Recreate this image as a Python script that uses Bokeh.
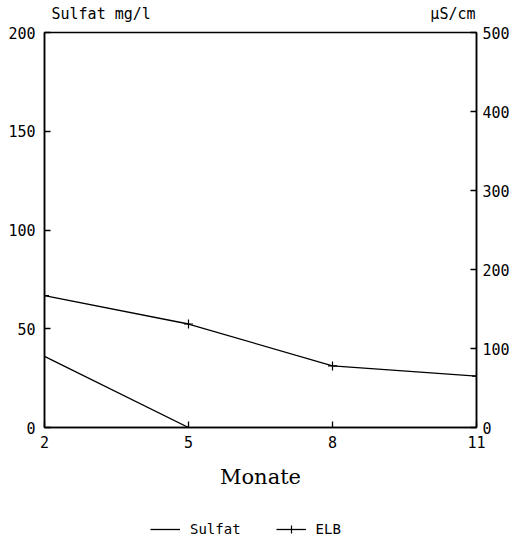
from bokeh.plotting import figure
from bokeh.layouts import column
from bokeh.models import (Range1d, LinearAxis, FixedTicker, Legend, LegendItem, Label)
from bokeh.embed import file_html
from bokeh.resources import INLINE

months = [2, 5, 8, 11]
sulfat_months = [2, 5]
sulfat_values = [36, 0]          # mg/l
elb_values = [167, 131, 78, 65]  # µS/cm
left_ticks = [0, 50, 100, 150, 200]
right_ticks = [0, 100, 200, 300, 400, 500]
x_ticks = [2, 5, 8, 11]

W = 514
mono = "DejaVu Sans Mono"


def strip(h, yr):
    s = figure(width=W, height=h, output_backend="svg", toolbar_location=None,
               x_range=Range1d(2, 11), y_range=yr,
               x_axis_location=None, y_axis_location=None,
               min_border_left=44, min_border_right=38,
               min_border_top=0, min_border_bottom=0)
    s.outline_line_color = None
    s.grid.visible = False
    s.background_fill_color = "white"
    s.border_fill_color = "white"
    return s


# ---- top strip: unit labels
top = strip(23, Range1d(0, 23))
top.add_layout(Label(x=2, y=10, x_offset=7, text="Sulfat mg/l", text_font=mono,
                     text_font_size="15px", text_color="black",
                     text_baseline="middle", text_align="left"))
top.add_layout(Label(x=11, y=10, x_offset=-1, text="µS/cm", text_font=mono,
                     text_font_size="15px", text_color="black",
                     text_baseline="middle", text_align="right"))

# ---- main chart
p = figure(width=W, height=472, output_backend="svg", toolbar_location=None,
           x_range=Range1d(2, 11), y_range=Range1d(0, 200),
           min_border_left=44, min_border_right=38, min_border_top=9, min_border_bottom=68)
p.extra_y_ranges = {"elb": Range1d(0, 500)}
p.grid.visible = False
p.outline_line_color = "black"
p.outline_line_width = 1.5
p.background_fill_color = "white"
p.border_fill_color = "white"

xa = p.xaxis[0]
xa.ticker = FixedTicker(ticks=x_ticks)
xa.major_tick_in = 6
xa.major_tick_out = 0
xa.major_tick_line_width = 1.3
xa.minor_tick_line_color = None
xa.axis_line_width = 1.5
xa.major_label_standoff = 8
xa.major_label_text_font = mono
xa.major_label_text_font_size = "15px"
xa.major_label_text_color = "black"
xa.axis_label = "Monate"
xa.axis_label_text_font = "DejaVu Serif"
xa.axis_label_text_font_style = "normal"
xa.axis_label_text_font_size = "21px"
xa.axis_label_text_color = "black"
xa.axis_label_standoff = 14

ya = p.yaxis[0]
ya.ticker = FixedTicker(ticks=left_ticks)
ya.major_tick_in = 6
ya.major_tick_out = 0
ya.major_tick_line_width = 1.3
ya.minor_tick_line_color = None
ya.axis_line_width = 1.5
ya.major_label_standoff = 9
ya.major_label_text_font = mono
ya.major_label_text_font_size = "15px"
ya.major_label_text_color = "black"

ra = LinearAxis(y_range_name="elb", ticker=FixedTicker(ticks=right_ticks))
ra.major_tick_in = 6
ra.major_tick_out = 0
ra.major_tick_line_width = 1.3
ra.minor_tick_line_color = None
ra.axis_line_width = 1.5
ra.major_label_standoff = 6
ra.major_label_text_font = mono
ra.major_label_text_font_size = "15px"
ra.major_label_text_color = "black"
p.add_layout(ra, "right")

p.line(sulfat_months, sulfat_values, line_color="black", line_width=1.3)
p.line(months, elb_values, y_range_name="elb", line_color="black", line_width=1.3)
p.scatter(months, elb_values, y_range_name="elb", marker="cross", size=9,
          line_color="black", line_width=1.2)

# ---- bottom strip: legend (proxy renderers carry the series but lie outside this strip's view)
bot = strip(47, Range1d(1000, 1047))
lg_s = bot.line(sulfat_months, sulfat_values, line_color="black", line_width=1.3)
lg_e = bot.line(months, elb_values, line_color="black", line_width=1.3)
lg_m = bot.scatter(months, elb_values, marker="cross", size=9, line_color="black", line_width=1.2)
legend = Legend(items=[LegendItem(label="Sulfat", renderers=[lg_s]),
                       LegendItem(label="ELB", renderers=[lg_e, lg_m])],
                orientation="horizontal", location=(106, 3),
                border_line_color=None, background_fill_alpha=0,
                label_text_font=mono, label_text_font_size="14px",
                label_text_color="black", label_standoff=10,
                glyph_width=30, spacing=35, margin=0, padding=2)
bot.add_layout(legend, "center")

layout = column(top, p, bot)
open("out.html", "w").write(file_html(layout, INLINE))
